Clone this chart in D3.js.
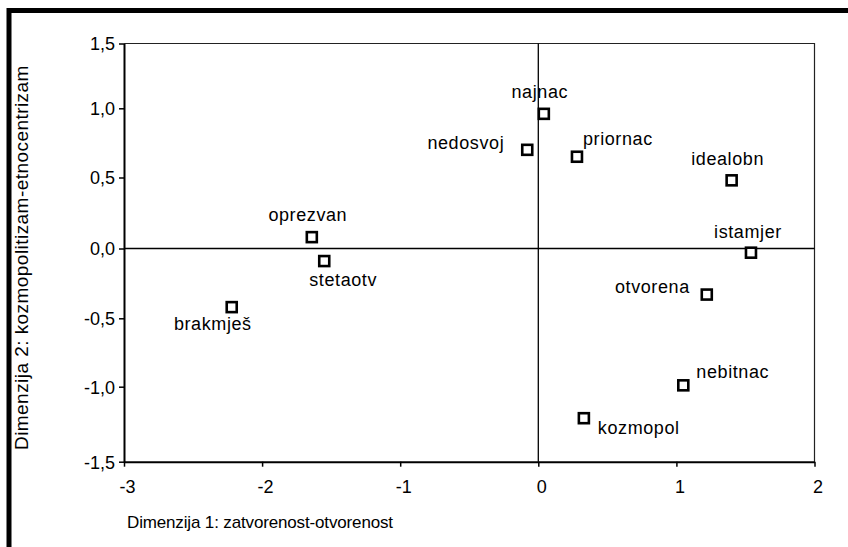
<!DOCTYPE html>
<html>
<head>
<meta charset="utf-8">
<script src="https://cdn.jsdelivr.net/npm/d3@7"></script>
<style>
  html, body { margin: 0; padding: 0; background: #fff; }
  svg { display: block; }
  text { font-family: "Liberation Sans", Arial, sans-serif; fill: #000; }
</style>
</head>
<body>
<svg id="chart" width="848" height="547"></svg>
<script>
// ---- data ----
const labels = ["najnac", "nedosvoj", "priornac", "idealobn", "oprezvan", "stetaotv",
                "istamjer", "brakmješ", "otvorena", "nebitnac", "kozmopol"];
const dim1 = [0.04, -0.08, 0.28, 1.40, -1.64, -1.55, 1.54, -2.22, 1.22, 1.05, 0.33];
const dim2 = [0.96, 0.70, 0.65, 0.48, 0.08, -0.09, -0.03, -0.42, -0.33, -0.99, -1.21];
const xTicks = [-3, -2, -1, 0, 1, 2];
const yTicks = [-1.5, -1.0, -0.5, 0.0, 0.5, 1.0, 1.5];
const xTitle = "Dimenzija 1: zatvorenost-otvorenost";
const yTitle = "Dimenzija 2: kozmopolitizam-etnocentrizam";

// label placement: anchor and offsets (px) relative to marker
const labelPos = {
  "najnac":   ["middle", -4, -16],
  "nedosvoj": ["end", -23, -1],
  "priornac": ["start", 6, -12],
  "idealobn": ["middle", -4, -15],
  "oprezvan": ["middle", -4, -16],
  "stetaotv": ["start", -15, 25],
  "istamjer": ["middle", -3, -15],
  "brakmješ": ["end", 20, 23],
  "otvorena": ["end", -17, -2],
  "nebitnac": ["start", 13, -7],
  "kozmopol": ["start", 14, 16]
};

const svg = d3.select("#chart");
const pLeft = 124, pRight = 814.5, pTop = 43.5, pBottom = 461.7;

const x = d3.scaleLinear().domain([-3, 2]).range([pLeft, pRight]);
const y = d3.scaleLinear()
  .domain([-1.5, -1.0, -0.5, 0, 0.5, 1.0, 1.5])
  .range([pBottom, 386.7, 318.3, 248.5, 177.5, 108.3, pTop]);

// outer frame
svg.append("rect").attr("x", 9).attr("y", 10.5).attr("width", 900).attr("height", 600)
  .attr("fill", "none").attr("stroke", "#000").attr("stroke-width", 5);

// plot frame top/right
svg.append("path")
  .attr("d", `M${pLeft},${pTop}H${pRight}V${pBottom}`)
  .attr("fill", "none").attr("stroke", "#222").attr("stroke-width", 1.2);

// zero reference lines
svg.append("line").attr("x1", pLeft).attr("x2", pRight).attr("y1", y(0)).attr("y2", y(0))
  .attr("stroke", "#000").attr("stroke-width", 1.3);
svg.append("line").attr("x1", x(0)).attr("x2", x(0)).attr("y1", pTop).attr("y2", pBottom)
  .attr("stroke", "#000").attr("stroke-width", 1.3);

// axes
const fmtY = d => d.toFixed(1).replace(".", ",");
const fmtX = d => String(d);
const xAxis = svg.append("g").attr("transform", `translate(0,${pBottom})`)
  .call(d3.axisBottom(x).tickValues(xTicks).tickSize(5).tickSizeOuter(0).tickFormat(fmtX));
const yAxis = svg.append("g").attr("transform", `translate(${pLeft},0)`)
  .call(d3.axisLeft(y).tickValues(yTicks).tickSize(5).tickSizeOuter(0).tickFormat(fmtY));

[xAxis, yAxis].forEach(g => {
  g.select(".domain").attr("stroke", "#000").attr("stroke-width", 2);
  g.selectAll(".tick line").attr("stroke", "#000").attr("stroke-width", 1.5);
  g.selectAll(".tick text").attr("font-family", "'Liberation Sans', Arial, sans-serif")
    .attr("font-size", 18).attr("fill", "#000");
});
xAxis.selectAll(".tick text").attr("dy", null).attr("y", 31).attr("dx", 3);
yAxis.selectAll(".tick text").attr("x", -9).attr("dy", "0.36em");

// axis titles
svg.append("text").attr("x", 127).attr("y", 528).attr("font-size", 17)
  .attr("letter-spacing", -0.15).text(xTitle);
svg.append("text")
  .attr("transform", `translate(28,${(pTop + pBottom) / 2 + 5}) rotate(-90)`)
  .attr("text-anchor", "middle").attr("font-size", 19).attr("letter-spacing", 0.45)
  .text(yTitle);

// points
const pts = labels.map((l, i) => ({ label: l, d1: dim1[i], d2: dim2[i] }));
const g = svg.append("g");
g.selectAll("rect.pt").data(pts).join("rect").attr("class", "pt")
  .attr("x", d => x(d.d1) - 5).attr("y", d => y(d.d2) - 5)
  .attr("width", 10).attr("height", 10)
  .attr("fill", "#fff").attr("stroke", "#000").attr("stroke-width", 2.6);

g.selectAll("text.lbl").data(pts).join("text").attr("class", "lbl")
  .attr("x", d => x(d.d1) + labelPos[d.label][1])
  .attr("y", d => y(d.d2) + labelPos[d.label][2])
  .attr("text-anchor", d => labelPos[d.label][0])
  .attr("font-size", 18).attr("letter-spacing", 0.6)
  .text(d => d.label);
</script>
</body>
</html>
